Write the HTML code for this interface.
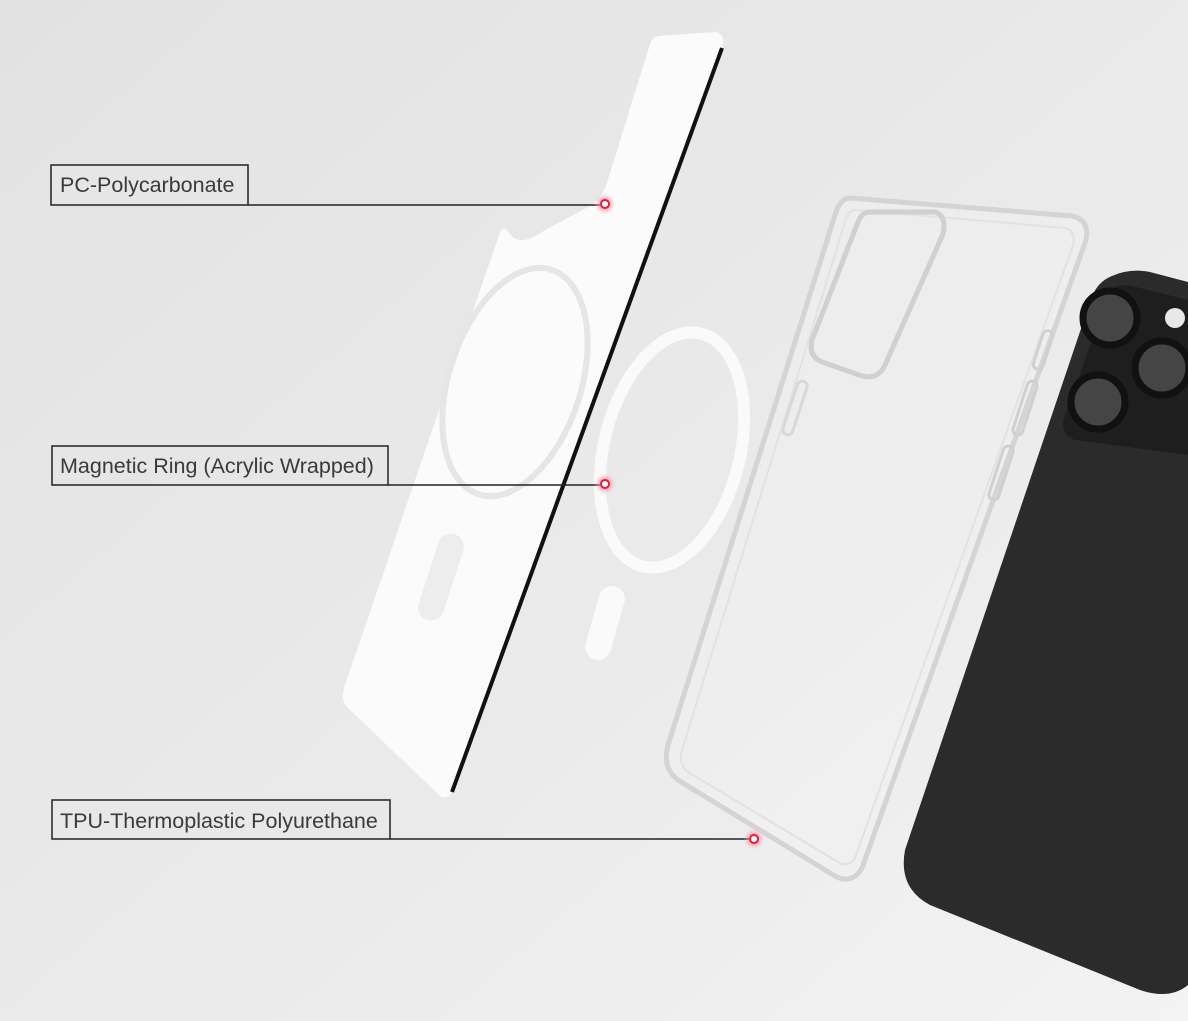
<!DOCTYPE html>
<html><head><meta charset="utf-8"><style>
html,body{margin:0;padding:0;width:1188px;height:1021px;overflow:hidden;background:#ececec}
svg{display:block}
text{font-family:"Liberation Sans",sans-serif;font-size:21.5px;fill:#3a3a3a}
</style></head><body>
<svg width="1188" height="1021" viewBox="0 0 1188 1021">
<defs>
<linearGradient id="bg" x1="0" y1="0" x2="1" y2="1">
<stop offset="0" stop-color="#e2e2e2"/><stop offset="0.6" stop-color="#ebebeb"/><stop offset="1" stop-color="#f3f3f3"/>
</linearGradient>
<radialGradient id="glow" cx="0.5" cy="0.5" r="0.5">
<stop offset="0" stop-color="#ff3355"/><stop offset="0.5" stop-color="#ff8899" stop-opacity="0.6"/><stop offset="1" stop-color="#ffccd4" stop-opacity="0"/>
</radialGradient>
</defs>
<rect width="1188" height="1021" fill="url(#bg)"/>
<!-- PC plate -->
<path d="M658,36 L716,32 Q726,34 722,48 L452,792 Q448,800 440,796 L348,708 Q340,700 344,688 L500,232 Q504,224 510,234 Q520,248 545,230 L590,206 Q600,200 606,186 L650,44 Q652,37 658,36 Z" fill="#fbfbfb"/>
<path d="M722,48 L452,792" stroke="#111" stroke-width="4" fill="none"/>
<ellipse cx="515" cy="382" rx="66" ry="118" transform="rotate(18 515 382)" fill="none" stroke="#e6e6e6" stroke-width="6"/>
<rect x="428" y="532" width="26" height="90" rx="13" transform="rotate(18 441 577)" fill="#ededed"/>
<!-- magnetic ring -->
<ellipse cx="672" cy="450" rx="68" ry="120" transform="rotate(14 672 450)" fill="none" stroke="#fafafa" stroke-width="12"/>
<rect x="592" y="585" width="26" height="76" rx="13" transform="rotate(16 605 623)" fill="#fafafa"/>
<!-- TPU case -->
<path d="M850,198 L1072,216 Q1090,220 1086,240 L862,868 Q852,885 835,876 L678,780 Q662,768 668,745 L835,215 Q840,198 850,198 Z" fill="#f2f2f2" fill-opacity="0.4" stroke="#d4d4d4" stroke-width="5"/>
<path d="M856,210 L1066,228 Q1076,232 1073,245 L855,858 Q848,868 838,862 L688,772 Q678,764 682,750 L845,222 Q848,210 856,210 Z" fill="none" stroke="#e2e2e2" stroke-width="2"/>
<path d="M870,212 L935,212 Q947,216 943,234 L885,365 Q878,380 862,376 L822,362 Q808,356 812,340 L858,222 Q862,212 870,212 Z" fill="none" stroke="#d0d0d0" stroke-width="5"/>
<rect x="1038" y="330" width="10" height="40" rx="5" transform="rotate(18 1043 350)" fill="none" stroke="#d0d0d0" stroke-width="3"/>
<rect x="1020" y="380" width="10" height="56" rx="5" transform="rotate(18 1025 408)" fill="none" stroke="#d0d0d0" stroke-width="3"/>
<rect x="996" y="445" width="10" height="56" rx="5" transform="rotate(18 1001 473)" fill="none" stroke="#d0d0d0" stroke-width="3"/>
<rect x="790" y="380" width="10" height="56" rx="5" transform="rotate(18 795 408)" fill="none" stroke="#d8d8d8" stroke-width="3"/>
<!-- phone -->
<path d="M1112,276 Q1130,268 1150,272 L1188,282 L1188,985 Q1170,1000 1140,990 L930,905 Q898,888 905,850 L1090,302 Q1096,282 1112,276 Z" fill="#2b2b2b"/>
<path d="M1110,290 Q1120,282 1140,288 L1188,300 L1188,455 L1075,440 Q1060,435 1064,418 Z" fill="#1e1e1e"/>
<circle cx="1110" cy="318" r="27" fill="#454545" stroke="#111" stroke-width="7"/>
<circle cx="1162" cy="368" r="27" fill="#454545" stroke="#111" stroke-width="7"/>
<circle cx="1098" cy="402" r="27" fill="#454545" stroke="#111" stroke-width="7"/>
<circle cx="1175" cy="318" r="10" fill="#e8e8e8"/>
<!-- labels -->
<g fill="none" stroke="#222" stroke-width="1.5">
<rect x="51" y="165" width="197" height="40" fill="#e6e6e6"/>
<line x1="248" y1="205" x2="605" y2="205"/>
<rect x="52" y="446" width="336" height="39" fill="#e6e6e6"/>
<line x1="388" y1="485" x2="605" y2="485"/>
<rect x="52" y="800" width="338" height="39" fill="#e8e8e8"/>
<line x1="390" y1="839" x2="754" y2="839"/>
</g>
<text x="60" y="192">PC-Polycarbonate</text>
<text x="60" y="473">Magnetic Ring (Acrylic Wrapped)</text>
<text x="60" y="828">TPU-Thermoplastic Polyurethane</text>
<g>
<circle cx="605" cy="204" r="11" fill="url(#glow)"/><circle cx="605" cy="204" r="4" fill="#fff" stroke="#e0203c" stroke-width="2"/>
<circle cx="605" cy="484" r="11" fill="url(#glow)"/><circle cx="605" cy="484" r="4" fill="#fff" stroke="#e0203c" stroke-width="2"/>
<circle cx="754" cy="839" r="11" fill="url(#glow)"/><circle cx="754" cy="839" r="4" fill="#fff" stroke="#e0203c" stroke-width="2"/>
</g>
</svg>
</body></html>
